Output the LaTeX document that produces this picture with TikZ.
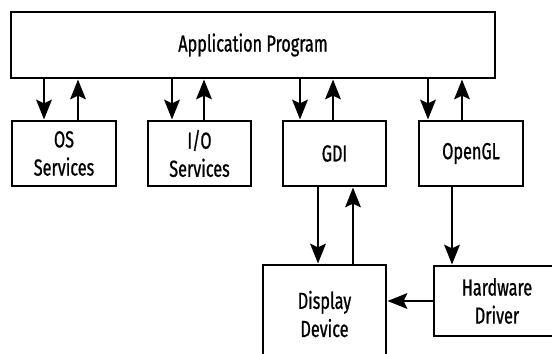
\documentclass[tikz,border=0pt]{standalone}
\usepackage{fontspec}
\setmainfont{Fira Sans}[FakeStretch=0.7,FakeBold=0.8]
\usepackage{tikz}
\usetikzlibrary{arrows.meta}
\tikzstyle{blk}=[draw, line width=2.1pt, align=center, inner sep=0pt, font=\fontsize{16.5}{20}\selectfont]
\tikzstyle{lnk}=[line width=2.1pt]

\begin{document}
\begin{tikzpicture}[x=0.025cm,y=-0.025cm,>={Stealth[length=14pt,width=11pt,inset=2.5pt]}]
    \useasboundingbox (0,0) rectangle (552,354);
    \clip (0,0) rectangle (552,354);
    \node [blk, minimum width=484*0.025cm, minimum height=66*0.025cm] (app) at (253,45) {Application Program};
    \node [blk, minimum width=104*0.025cm, minimum height=65*0.025cm] (os) at (64,153.5) {OS\\Services};
    \node [blk, minimum width=103*0.025cm, minimum height=65*0.025cm] (io) at (199.5,153.5) {I/O\\Services};
    \node [blk, minimum width=103*0.025cm, minimum height=65*0.025cm] (gdi) at (334.5,153.5) {GDI};
    \node [blk, minimum width=104*0.025cm, minimum height=65*0.025cm] (ogl) at (471,153.5) {OpenGL};
    \node [blk, minimum width=123*0.025cm, minimum height=98*0.025cm] (disp) at (324.5,314) {Display\\Device};
    \node [blk, minimum width=126*0.025cm, minimum height=70*0.025cm] (hw) at (497,301) {Hardware\\Driver};
    \foreach \n/\d/\u in {os/44/78, io/172/204, gdi/300/333, ogl/428/462} {
        \draw [lnk,->] (app.south -| \d,0) -- (\n.north -| \d,0);
        \draw [lnk,<-] (app.south -| \u,0) -- (\n.north -| \u,0);
    }
    \draw [lnk,->] (gdi.south -| 318,0) -- (disp.north -| 318,0);
    \draw [lnk,<-] (gdi.south -| 353,0) -- (disp.north -| 353,0);
    \draw [lnk,->] (ogl.south -| 452,0) -- (hw.north -| 452,0);
    \draw [lnk,->] (hw.west) -- (disp.east |- hw.west);
\end{tikzpicture}
\end{document}
